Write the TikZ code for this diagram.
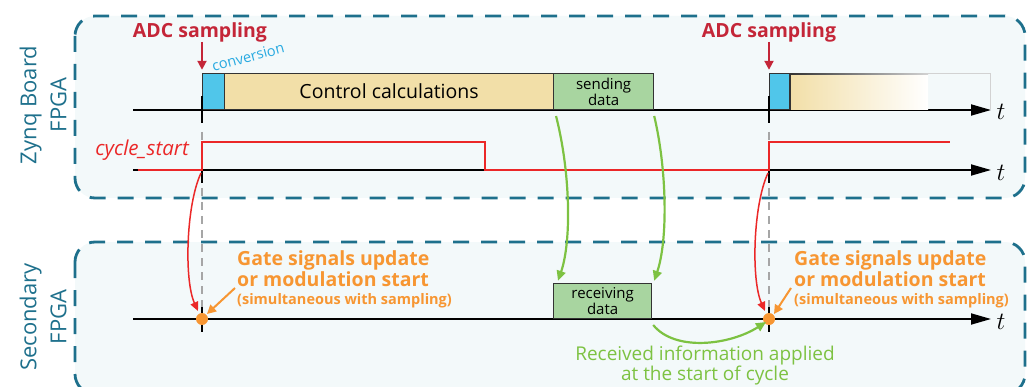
\documentclass[tikz,border=0pt]{standalone}
\usepackage{fontspec}
\setmainfont{Open Sans}
\usetikzlibrary{arrows.meta}
\definecolor{panelline}{RGB}{30,112,140}
\definecolor{panelfill}{RGB}{243,249,250}
\definecolor{adcred}{RGB}{196,38,56}
\definecolor{sigred}{RGB}{235,40,40}
\definecolor{convfill}{RGB}{80,198,234}
\definecolor{convtext}{RGB}{40,170,225}
\definecolor{ctrlfill}{RGB}{242,223,168}
\definecolor{greenfill}{RGB}{168,213,160}
\definecolor{greenarrow}{RGB}{125,194,66}
\definecolor{orangec}{RGB}{247,150,50}
\tikzset{
  panel/.style={draw=panelline, fill=panelfill, line width=2.8pt, rounded corners=20pt, dash pattern=on 16pt off 12pt},
  axis/.style={line width=1.8pt, -{Triangle[length=20pt,width=11pt]}},
  tlab/.style={font=\fontsize{28}{28}\selectfont, inner sep=0pt},
  tickmark/.style={line width=2.4pt},
  guide/.style={gray!70, line width=1.2pt, dash pattern=on 8pt off 6pt},
  tbox/.style={draw=black!80, line width=1.2pt, anchor=south west, minimum height=36pt, inner sep=0pt, align=center},
  adclab/.style={text=adcred, font=\bfseries\fontsize{19.5}{20}\selectfont, inner sep=0pt},
  adcarrow/.style={draw=adcred, line width=2pt, -{Triangle[length=9pt,width=9pt]}},
  sig/.style={draw=sigred, line width=1.8pt},
  sigarrow/.style={draw=sigred, line width=1.5pt, -{Triangle[length=9pt,width=8pt]}},
  garrow/.style={draw=greenarrow, line width=2.2pt, -{Triangle[length=10pt,width=9pt]}},
  orarrow/.style={draw=orangec, line width=2pt, -{Triangle[length=9pt,width=9pt]}},
  gatelab/.style={text=orangec, font=\bfseries\fontsize{19.5}{21}\selectfont, align=left, anchor=north west, inner sep=0pt},
  dotnode/.style={circle, fill=orangec, minimum size=12pt, inner sep=0pt},
  sidelab/.style={text=panelline, font=\fontsize{22}{30}\selectfont, align=center, rotate=90, inner sep=0pt},
}
\begin{document}
\begin{tikzpicture}[x=1pt,y=-1pt]
\useasboundingbox (0,0) rectangle (1032,387);
\begin{scope}
\clip (0,0) rectangle (1032,387);
\draw[panel] (75,16) rectangle (1025,198);
\draw[panel] (75,242) rectangle (1025,394);
\end{scope}

% side labels
\node[sidelab] (zlab) at (43,105) {Zynq Board\\FPGA};
\node[sidelab] (slab) at (43,317) {Secondary\\FPGA};

% guide dashed lines
\draw[guide] (202,132) -- (202,308);
\draw[guide] (769,132) -- (769,308);

% axes
\draw[axis] (133,110) -- (991,110);
\draw[axis] (133,170) -- (991,170);
\draw[axis] (133,319) -- (991,319);
\node[tlab] (t1) at (1001,112) {$t$};
\node[tlab] (t2) at (1001,173) {$t$};
\node[tlab] (t3) at (1001,322) {$t$};

% top timeline boxes
\node[tbox, fill=convfill, minimum width=22pt] (conv1) at (202,110) {};
\node[tbox, fill=ctrlfill, minimum width=329pt, font=\fontsize{19.5}{20}\selectfont] (ctrl1) at (224,110) {Control calculations};
\node[tbox, fill=greenfill, minimum width=100pt, font=\fontsize{15}{13}\selectfont] (send) at (553,110) {sending\\data};
\node[tbox, fill=convfill, minimum width=21pt] (conv2) at (769,110) {};
\shade[left color=ctrlfill, right color=white] (790.6,74.6) rectangle (928,109.4);
\shade[left color=black!80, right color=gray!35] (790,73.4) rectangle (928,74.6);
\draw[gray!35, line width=1pt] (928,74) -- (990,74) -- (990,109);
\draw[black!80, line width=1.2pt] (790,74) -- (790,110);

% ticks
\foreach \x in {202,769} {
  \draw[tickmark] (\x,96) -- (\x,123);
  \draw[tickmark] (\x,170) -- (\x,183);
  \draw[tickmark] (\x,307) -- (\x,332);
}

% ADC sampling labels
\node[adclab] (adc1) at (200,32) {ADC sampling};
\node[adclab] (adc2) at (769,32) {ADC sampling};
\draw[adcarrow] (adc1.south -| conv1.north west) -- ([yshift=3pt]conv1.north west);
\draw[adcarrow] (adc2.south -| conv2.north west) -- ([yshift=3pt]conv2.north west);
\node[text=convtext, rotate=15, font=\fontsize{14.5}{14.5}\selectfont, inner sep=0pt] (convlab) at (248,57) {conversion};

% cycle_start signal
\node[text=sigred, font=\itshape\fontsize{20.5}{21}\selectfont, anchor=east, inner sep=0pt] (cs) at (189,150) {cycle\_start};
\draw[sig] (138,170) -- (202,170) -- (202,142) -- (485,142) -- (485,170) -- (769,170) -- (769,142) -- (950,142);

% secondary FPGA
\node[tbox, fill=greenfill, minimum width=98pt, minimum height=35pt, font=\fontsize{15}{13}\selectfont] (recv) at (553,319) {receiving\\data};
\node[dotnode] (dot1) at (202,319) {};
\node[dotnode] (dot2) at (769,319) {};

% red curved arrows
\coordinate (rs1) at (201,173);
\coordinate (rs2) at (768,173);
\draw[sigarrow] (rs1) .. controls (186,205) and (184,280) .. ([xshift=-4pt,yshift=8pt]dot1.center);
\draw[sigarrow] (rs2) .. controls (753,205) and (751,280) .. ([xshift=-4pt,yshift=8pt]dot2.center);

% green arrows
\draw[garrow] ([xshift=3pt,yshift=-6pt]send.south west) .. controls (570,170) and (572,240) .. ([xshift=5pt,yshift=2pt]recv.north west);
\draw[garrow] ([yshift=-6pt]send.south east) .. controls (667,170) and (668,240) .. ([xshift=2pt,yshift=2pt]recv.north east);
\draw[garrow] ([xshift=1pt,yshift=-6pt]recv.south east) .. controls (675,352) and (730,345) .. ([xshift=-3pt,yshift=-3pt]dot2.center);
\node[text=greenarrow, font=\fontsize{19}{20}\selectfont, align=center, inner sep=0pt] (recvinfo) at (705,366) {Received information applied\\at the start of cycle};

% gate labels
\node[gatelab] (gate1) at (237,250) {Gate signals update\\or modulation start\\[-3pt]{\fontsize{14.5}{15}\selectfont (simultaneous with sampling)}};
\node[gatelab] (gate2) at (794,250) {Gate signals update\\or modulation start\\[-3pt]{\fontsize{14.5}{15}\selectfont (simultaneous with sampling)}};
\coordinate (ga1) at (235,288);
\coordinate (ga2) at (791,288);
\draw[orarrow] (ga1) -- ([xshift=5pt,yshift=5pt]dot1.center);
\draw[orarrow] (ga2) -- ([xshift=5pt,yshift=5pt]dot2.center);
\end{tikzpicture}
\end{document}
